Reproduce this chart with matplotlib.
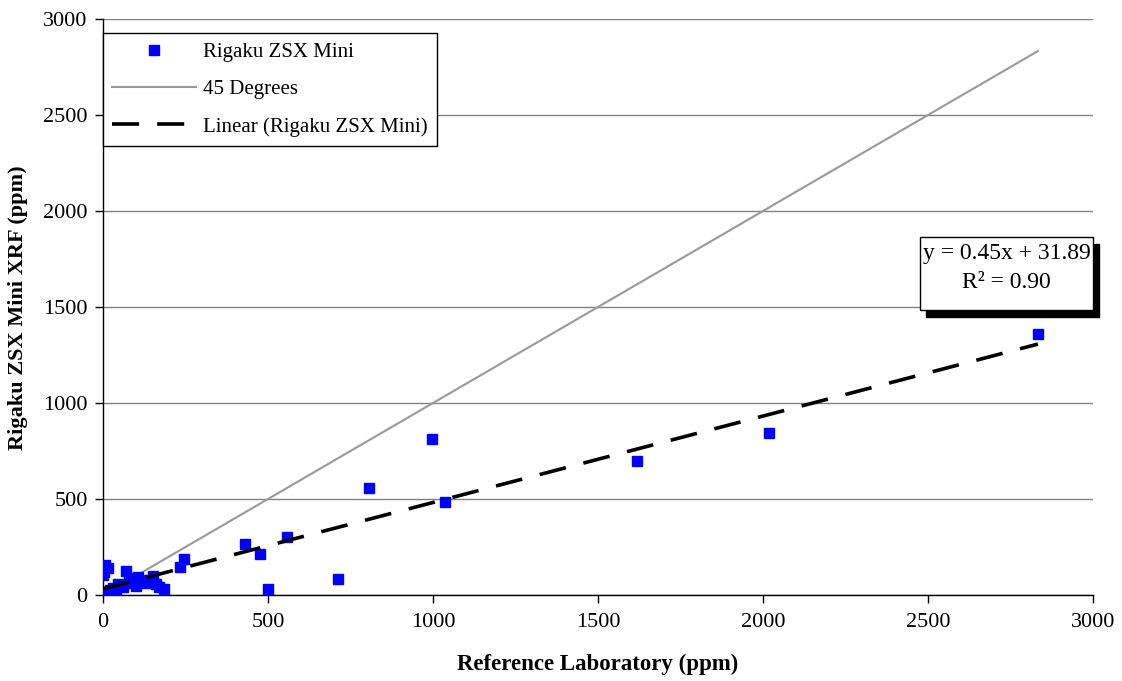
import matplotlib
matplotlib.use('Agg')
import matplotlib.pyplot as plt
from matplotlib.patches import Rectangle
import numpy as np

plt.rcParams['font.family'] = ['Liberation Serif', 'DejaVu Serif']

# ── Data ──────────────────────────────────────────────────────────────────────
ref_lab = [0, 5, 15, 3,
           2, 8, 20, 30, 40, 12,
           45, 60, 70, 80, 90, 100, 105, 115,
           130, 140, 150, 160, 170, 185,
           233, 245, 430, 476, 557, 500, 712, 806, 997, 1036, 1618, 2018, 2833]
zsx_mini = [105, 155, 140, 120,
            5, 15, 25, 35, 20, 0,
            55, 40, 125, 90, 60, 45, 95, 70,
            60, 80, 100, 55, 40, 30,
            146, 188, 266, 214, 302, 31, 83, 557, 812, 484, 698, 844, 1360]
slope, intercept, r2 = 0.45, 31.89, 0.90

W, H, DPI = 1122, 681, 100
fig = plt.figure(figsize=(W / DPI, H / DPI), dpi=DPI)
ax = fig.add_axes([103 / W, 1 - 595 / H, 990 / W, 576 / H])

x = np.array(ref_lab, dtype=float)
xs = np.array([x.min(), x.max()])

ax.plot(xs, xs, color='#999999', lw=1.5, zorder=2, label='45 Degrees')
ax.plot(x, zsx_mini, 's', color='#0000FF', ms=7.5, mec='#0000FF', zorder=3,
        label='Rigaku ZSX Mini')
ax.plot(xs, slope * xs + intercept, color='black', lw=2.6, dashes=(7.5, 5),
        zorder=4, label='Linear (Rigaku ZSX Mini)')

ax.set_xlim(0, 3000)
ax.set_ylim(0, 3000)
ax.set_xticks(range(0, 3001, 500))
ax.set_yticks(range(0, 3001, 500))
ax.yaxis.grid(True, color='#808080', lw=1.0, zorder=0)
ax.set_axisbelow(True)
for s in ['top', 'right']:
    ax.spines[s].set_visible(False)
for s in ['left', 'bottom']:
    ax.spines[s].set_color('black')
    ax.spines[s].set_linewidth(1.0)
ax.tick_params(direction='out', length=6, width=1, labelsize=16)
ax.tick_params(axis='x', pad=7)
ax.tick_params(axis='y', pad=5)

ax.set_xlabel('Reference Laboratory (ppm)', fontsize=16.5, fontweight='bold',
              labelpad=16)
fig.text(18 / W, 1 - 308 / H, 'Rigaku ZSX Mini XRF (ppm)', rotation=90,
         ha='center', va='center', fontsize=16, fontweight='bold')

handles, labels = ax.get_legend_handles_labels()
order = [1, 0, 2]
leg = ax.legend([handles[i] for i in order], [labels[i] for i in order],
                loc='upper left', bbox_to_anchor=(103 / W, 1 - 33 / H),
                bbox_transform=fig.transFigure, borderaxespad=0,
                fontsize=15, frameon=True, fancybox=False, framealpha=1,
                edgecolor='black', handlelength=4.0, labelspacing=0.85,
                borderpad=0.45, handletextpad=0.35)
leg.get_frame().set_linewidth(1.0)
leg.set_zorder(10)

# Trendline equation box with drop shadow
bx0, by0, bw, bh = 920, 237, 173, 73
fig.patches.append(Rectangle(((bx0 + 6) / W, 1 - (by0 + bh + 7) / H),
                             bw / W, bh / H, transform=fig.transFigure,
                             facecolor='black', edgecolor='black', zorder=20))
fig.patches.append(Rectangle((bx0 / W, 1 - (by0 + bh) / H), bw / W, bh / H,
                             transform=fig.transFigure, facecolor='white',
                             edgecolor='black', lw=1.0, zorder=21))
fig.text((bx0 + bw / 2) / W, 1 - 253 / H,
         f'y = {slope:.2f}x + {intercept:.2f}', ha='center', va='center',
         fontsize=17, zorder=22)
fig.text((bx0 + bw / 2) / W, 1 - 283 / H, f'R² = {r2:.2f}', ha='center',
         va='center', fontsize=17, zorder=22)

fig.savefig('out.png', dpi=DPI, facecolor='white')
